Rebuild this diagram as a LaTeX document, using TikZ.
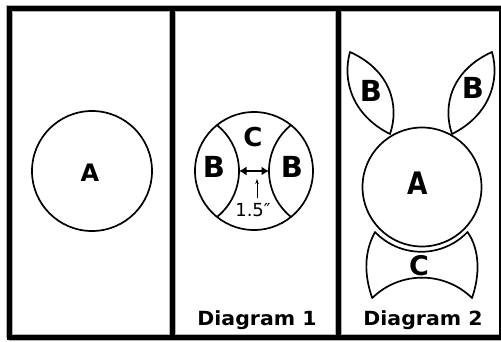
\documentclass[tikz,border=0pt]{standalone}
\usepackage{fontspec}
\setmainfont{DejaVu Sans}
\usetikzlibrary{arrows.meta}
\begin{document}
\begin{tikzpicture}[x=1pt,y=-1pt,
  halo/.style={line width=7pt, black!30},
  frame/.style={line width=5pt, black},
  shp/.style={line width=1.7pt, line join=round},
  lbl/.style={inner sep=0pt, font=\bfseries\fontsize{#1}{#1}\selectfont},
  captext/.style={inner sep=0pt, font=\bfseries\fontsize{19.5}{20}\selectfont},
  dimarrow/.style={line width=1.8pt, {Latex[length=7.5pt,width=9pt]}-{Latex[length=7.5pt,width=9pt]}}]
\useasboundingbox (0,0) rectangle (501,341);
\fill[white] (0,0) rectangle (501,341);
% frame
\draw[halo] (9,337.5) -- (9,8) -- (501,8);
\draw[halo] (172,8) -- (172,337.5);
\draw[halo] (338,8) -- (338,337.5);
\draw[halo] (9,337.5) -- (501,337.5);
\draw[frame] (9,337.5) -- (9,8) -- (501,8);
\draw[frame] (172,8) -- (172,337.5);
\draw[frame] (338,8) -- (338,337.5);
\draw[frame] (6.5,337.5) -- (501,337.5);
\draw[line width=2.5pt] (500,6) -- (500,340);
% panel 1
\draw[shp] (92,171) circle[radius=60];
\node[lbl=24] (a1) at (90,173) {A};
% diagram 1
\begin{scope}
  \clip (254,171) circle[radius=59];
  \draw[shp] (180,171) circle[radius=59];
  \draw[shp] (328,171) circle[radius=59];
\end{scope}
\draw[shp] (254,171) circle[radius=59];
\node[lbl=26] (c1) at (253,137) {C};
\node[lbl=29] (b1l) at (214,167) {B};
\node[lbl=29] (b1r) at (292,167) {B};
\coordinate (pl) at (239,171);
\coordinate (pr) at (269,171);
\draw[dimarrow] (pl) -- (pr);
\coordinate (sb) at (257,198);
\coordinate (st) at (257,179);
\draw[line width=0.7pt, -{Stealth[length=5pt,width=3.5pt]}] (sb) -- (st);
\node[inner sep=0pt, font=\fontsize{18}{18}\selectfont] (len) at (253,210) {1.5″};
% diagram 2
\draw[shp] (422,187) circle[radius=59.5];
\node[lbl=31] (a2) at (418,183) {\scalebox{0.85}[1]{A}};
\draw[shp] (390,134) .. controls (400,105) and (390,70) .. (350,52)
                    .. controls (342,80) and (352,115) .. (390,134) -- cycle;
\draw[shp] (452,134) .. controls (442,105) and (452,70) .. (492,52)
                    .. controls (500,80) and (490,115) .. (452,134) -- cycle;
\node[lbl=29] (b2l) at (371,91) {B};
\node[lbl=29] (b2r) at (473,88) {B};
\draw[shp] (375,232) arc[start angle=136.3,end angle=43.7,radius=64]
  .. controls (480,250) and (480,275) .. (472,298)
  arc[start angle=-45.6,end angle=-134.4,radius=71.3]
  .. controls (364,275) and (364,252) .. (375,232) -- cycle;
\node[lbl=27] (c2) at (419,266) {C};
% captions
\node[captext] (d1) at (257,320) {\scalebox{1.05}[1]{Diagram 1}};
\node[captext] (d2) at (423,320) {\scalebox{1.05}[1]{Diagram 2}};
\end{tikzpicture}
\end{document}
